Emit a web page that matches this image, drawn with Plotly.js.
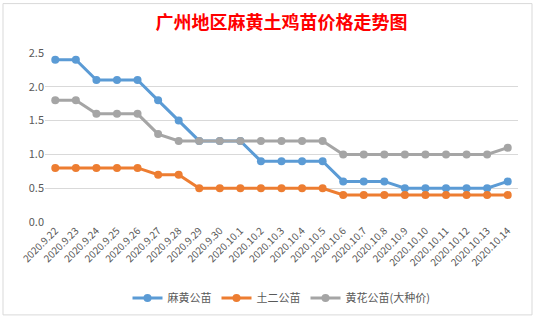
<!DOCTYPE html>
<html><head><meta charset="utf-8">
<script src="https://cdn.plot.ly/plotly-3.0.1.min.js"></script>
<style>html,body{margin:0;padding:0;background:#fff}#c{width:537px;height:325px}</style>
</head><body><div id="c"></div>
<script>
const dates = ["2020.9.22","2020.9.23","2020.9.24","2020.9.25","2020.9.26","2020.9.27","2020.9.28","2020.9.29","2020.9.30","2020.10.1","2020.10.2","2020.10.3","2020.10.4","2020.10.5","2020.10.6","2020.10.7","2020.10.8","2020.10.9","2020.10.10","2020.10.11","2020.10.12","2020.10.13","2020.10.14"];
const mahuang = [2.4,2.4,2.1,2.1,2.1,1.8,1.5,1.2,1.2,1.2,0.9,0.9,0.9,0.9,0.6,0.6,0.6,0.5,0.5,0.5,0.5,0.5,0.6];
const tuer = [0.8,0.8,0.8,0.8,0.8,0.7,0.7,0.5,0.5,0.5,0.5,0.5,0.5,0.5,0.4,0.4,0.4,0.4,0.4,0.4,0.4,0.4,0.4];
const huanghua = [1.8,1.8,1.6,1.6,1.6,1.3,1.2,1.2,1.2,1.2,1.2,1.2,1.2,1.2,1.0,1.0,1.0,1.0,1.0,1.0,1.0,1.0,1.1];
const names = ["麻黄公苗","土二公苗","黄花公苗(大种价)"];
const colors = ["#5B9BD5","#ED7D31","#A5A5A5"];
const series = [mahuang, tuer, huanghua];
const traces = series.map((s,i)=>({
  x: dates, y: s, name: names[i], type:'scatter', mode:'lines+markers',
  line:{color:colors[i], width:3}, marker:{color:colors[i], size:8}
}));
const font = "'Noto Sans CJK SC', 'Microsoft YaHei', sans-serif";
const W=537, L=45, R=518;
const px = v => (v - L)/(R - L);
const T=53, B=224;
const py = v => (B - v)/(B - T);
const shapes = [
  {type:'rect', xref:'paper', yref:'paper', x0:px(3), x1:px(532), y0:py(3), y1:py(318), line:{color:'#D9D9D9', width:1}, layer:'below'}
];
const layout = {
  width:537, height:325,
  margin:{l:L, r:W-R, t:T, b:325-B},
  paper_bgcolor:'#fff', plot_bgcolor:'#fff',
  title:{text:'<b>广州地区麻黄土鸡苗价格走势图</b>', font:{family:font, size:18, color:'#FF0000'}, x:0.5, xanchor:'center', y:0.93, yanchor:'middle', xref:'paper'},
  xaxis:{type:'category', range:[-0.5,22.5], tickangle:-45, showgrid:false, showline:false, zeroline:false, ticks:'', tickfont:{family:font, size:10, color:'#595959'}, fixedrange:true},
  yaxis:{range:[0,2.5], dtick:0.5, tickformat:'.1f', gridcolor:'#D9D9D9', zeroline:false, showline:false, tickfont:{family:font, size:11, color:'#595959'}, ticks:'', ticklen:0},
  legend:{orientation:'h', x:0.5, xanchor:'center', xref:'paper', y:py(301), yanchor:'middle', font:{family:font, size:11, color:'#595959'}, itemwidth:30, tracegroupgap:0},
  showlegend:true,
  shapes:shapes
};
Plotly.newPlot('c', traces, layout, {staticPlot:true});
</script></body></html>
